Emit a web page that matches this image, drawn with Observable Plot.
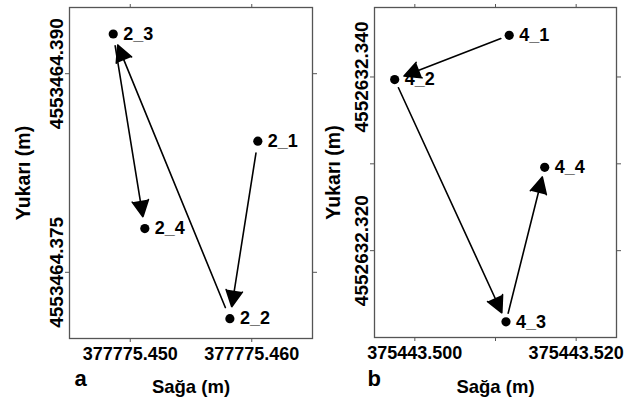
<!DOCTYPE html>
<html>
<head>
<meta charset="utf-8">
<script src="https://cdn.jsdelivr.net/npm/d3@7"></script>
<script src="https://cdn.jsdelivr.net/npm/@observablehq/plot@0.6"></script>
<style>
  html, body { margin: 0; padding: 0; background: white; }
  #wrap { display: flex; width: 634px; height: 401px; }
  #wrap > div { width: 317px; height: 401px; }
</style>
</head>
<body>
<div id="wrap"><div id="pa"></div><div id="pb"></div></div>
<script>
// ---- Panel a data ----
const labelsA = ["2_1", "2_2", "2_3", "2_4"];
const eastA = [377775.4605, 377775.4582, 377775.4486, 377775.4512];
const northA = [4553464.3849, 4553464.3715, 4553464.3930, 4553464.3783];
const xTicksA = [377775.450, 377775.460];
const yTicksA = [4553464.375, 4553464.390];
const xShownA = ["377775.450", "377775.460"];
const yShownA = ["4553464.375", "4553464.390"];

// ---- Panel b data ----
const labelsB = ["4_1", "4_2", "4_3", "4_4"];
const eastB = [375443.5117, 375443.4975, 375443.5113, 375443.5161];
const northB = [4552632.3448, 4552632.3397, 4552632.3118, 4552632.3296];
const xTicksB = [375443.500, 375443.510, 375443.520];
const yTicksB = [4552632.320, 4552632.330, 4552632.340];
const xShownB = ["375443.500", "375443.520"];
const yShownB = ["4552632.320", "4552632.340"];

const xTitle = "Sağa (m)";
const yTitle = "Yukarı (m)";

const FONT = "'Liberation Sans', Arial, Helvetica, sans-serif";
const FRAME = "#555";

function panel(opts) {
  const pts = opts.labels.map((l, i) => ({label: l, x: opts.east[i], y: opts.north[i]}));
  const segs = d3.pairs(pts).map(([a, b]) => ({x1: a.x, y1: a.y, x2: b.x, y2: b.y}));
  const fmt = shown => d => { const s = d.toFixed(3); return shown.includes(s) ? s : ""; };
  const blank = () => "";
  return Plot.plot({
    width: 317,
    height: 401,
    marginLeft: opts.ml, marginRight: opts.mr, marginTop: opts.mt, marginBottom: opts.mb,
    x: {domain: opts.xDomain},
    y: {domain: opts.yDomain},
    style: {fontFamily: FONT, fontWeight: "bold", background: "white", color: "black"},
    marks: [
      Plot.frame({stroke: FRAME, strokeWidth: 1.3}),
      Plot.axisX({ticks: opts.xTicks, anchor: "bottom", tickSize: 4, tickPadding: 5, fontSize: 18, fontWeight: "bold", stroke: FRAME, label: null, tickFormat: fmt(opts.xShown)}),
      Plot.axisX({ticks: opts.xTicks, anchor: "top", tickSize: 4, stroke: FRAME, label: null, tickFormat: blank}),
      Plot.axisY({ticks: opts.yTicks, anchor: "left", tickSize: 4, tickPadding: 3, tickRotate: -90, fontSize: 19, fontWeight: "bold", stroke: FRAME, label: null, tickFormat: fmt(opts.yShown)}),
      Plot.axisY({ticks: opts.yTicks, anchor: "right", tickSize: 4, stroke: FRAME, label: null, tickFormat: blank}),
      Plot.arrow(segs, {x1: "x1", y1: "y1", x2: "x2", y2: "y2", stroke: "black", fill: "black", strokeWidth: 1.6, headLength: 17, headAngle: 54, insetStart: opts.inset, insetEnd: opts.insetEnd}),
      Plot.dot(pts, {x: "x", y: "y", r: 4.6, fill: "black"}),
      Plot.text(pts, {x: "x", y: "y", text: "label", dx: 10, textAnchor: "start", lineAnchor: "middle", fontSize: 18, fontWeight: "bold", fill: "black"}),
      Plot.text([xTitle], {frameAnchor: "bottom", dy: opts.xTitleDy, lineAnchor: "bottom", fontSize: 18.5, fontWeight: "bold", fill: "black"}),
      Plot.text([yTitle], {frameAnchor: "left", dx: opts.yTitleDx, rotate: -90, textAnchor: "middle", lineAnchor: "bottom", fontSize: 19.5, fontWeight: "bold", fill: "black"}),
      Plot.text([opts.tag], {frameAnchor: "bottom-left", dx: opts.tagDx, dy: opts.tagDy, textAnchor: "start", lineAnchor: "bottom", fontSize: 22, fontWeight: "bold", fill: "black"})
    ]
  });
}

document.getElementById("pa").append(panel({
  labels: labelsA, east: eastA, north: northA,
  xTicks: xTicksA, yTicks: yTicksA, xShown: xShownA, yShown: yShownA,
  xDomain: [377775.445, 377775.465], yDomain: [4553464.370, 4553464.395],
  ml: 69, mr: 5, mt: 7, mb: 63, inset: 12, insetEnd: 12,
  xTitleDy: 54.5, yTitleDx: -40, tag: "a", tagDx: 5, tagDy: 47
}));

document.getElementById("pb").append(panel({
  labels: labelsB, east: eastB, north: northB,
  xTicks: xTicksB, yTicks: yTicksB, xShown: xShownB, yShown: yShownB,
  xDomain: [375443.495, 375443.525], yDomain: [4552632.310, 4552632.348],
  ml: 57, mr: 18, mt: 7, mb: 64, inset: 9, insetEnd: 10,
  xTitleDy: 55, yTitleDx: -35, tag: "b", tagDx: -7, tagDy: 48
}));
</script>
</body>
</html>
